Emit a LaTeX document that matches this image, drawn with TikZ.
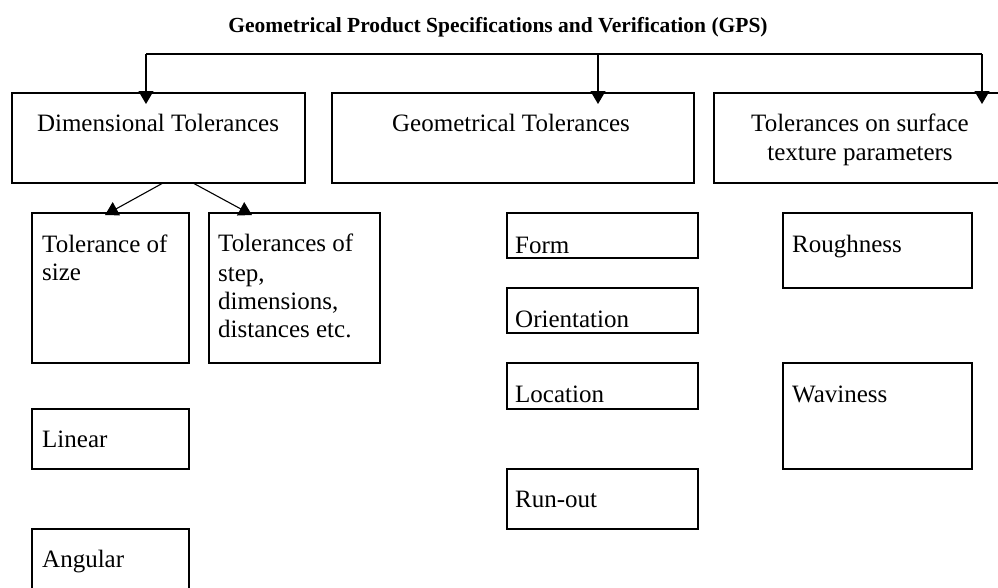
\documentclass[tikz,border=0pt]{standalone}
\usepackage{fontspec}
\setmainfont{Liberation Serif}
\usetikzlibrary{arrows.meta}
\begin{document}
\begin{tikzpicture}[x=1pt,y=-1pt,
  box/.style={draw,line width=1.3pt},
  txt/.style={inner sep=0pt,anchor=base west,font=\fontsize{25}{29}\selectfont},
  ctxt/.style={inner sep=0pt,anchor=base,font=\fontsize{25}{29}\selectfont},
  conn/.style={line width=1.1pt},
  arr/.style={line width=1.1pt,-{Triangle[length=13pt,width=15pt]}}]
\clip (0,0) rectangle (998,587);
\fill[white] (0,0) rectangle (998,587);
% title
\node[inner sep=0pt,anchor=base,font=\fontsize{21.5}{25}\selectfont\bfseries] (title) at (498,32) {Geometrical Product Specifications and Verification (GPS)};
% top boxes
\draw[box] (12,93) rectangle (305,183);
\node[inner sep=0pt,minimum width=293pt,minimum height=90pt,anchor=north west] (dim) at (12,93) {};
\node[ctxt] (dimt) at (158,131) {Dimensional Tolerances};
\draw[box] (332,93) rectangle (694,183);
\node[inner sep=0pt,minimum width=362pt,minimum height=90pt,anchor=north west] (geo) at (332,93) {};
\node[ctxt] (geot) at (511,131) {Geometrical Tolerances};
\draw[box] (714,93) rectangle (1010,183);
\node[inner sep=0pt,minimum width=296pt,minimum height=90pt,anchor=north west] (sur) at (714,93) {};
\node[ctxt] (surt1) at (860,131) {Tolerances on surface};
\node[ctxt] (surt2) at (860,160) {texture parameters};
% connectors at top
\coordinate (jl) at (146,54);
\coordinate (jm) at (598,54);
\coordinate (jr) at (982,54);
\coordinate (tl) at (146,104);
\coordinate (tm) at (598,104);
\coordinate (tr) at (982,104);
\draw[conn] (jl) -- (jr);
\draw[arr] (jl) -- (tl);
\draw[arr] (jm) -- (tm);
\draw[arr] (jr) -- (tr);
% dimensional sub-boxes
\draw[box] (32,213) rectangle (189,363);
\node[inner sep=0pt,minimum width=157pt,minimum height=150pt,anchor=north west] (tsize) at (32,213) {};
\node[txt] (tsize1) at (42,252) {Tolerance of};
\node[txt] (tsize2) at (42,280) {size};
\draw[box] (209,213) rectangle (380,363);
\node[inner sep=0pt,minimum width=171pt,minimum height=150pt,anchor=north west] (tstep) at (209,213) {};
\node[txt] (tstep1) at (218,251) {Tolerances of};
\node[txt] (tstep2) at (218,281) {step,};
\node[txt] (tstep3) at (218,309) {dimensions,};
\node[txt] (tstep4) at (218,337) {distances etc.};
\coordinate (d1) at (163,183);
\coordinate (d2) at (193,183);
\coordinate (e1) at (105,215);
\coordinate (e2) at (252,215);
\draw[arr] (d1) -- (e1);
\draw[arr] (d2) -- (e2);
\draw[box] (32,409) rectangle (189,469);
\node[inner sep=0pt,minimum width=157pt,minimum height=60pt,anchor=north west] (lin) at (32,409) {};
\node[txt] (lint) at (42,447) {Linear};
\draw[box] (32,529) rectangle (189,600);
\node[inner sep=0pt,minimum width=157pt,minimum height=71pt,anchor=north west] (ang) at (32,529) {};
\node[txt] (angt) at (42,567) {Angular};
% geometrical sub-boxes
\draw[box] (507,213) rectangle (698,258);
\node[inner sep=0pt,minimum width=191pt,minimum height=45pt,anchor=north west] (form) at (507,213) {};
\node[txt] (formt) at (515,253) {Form};
\draw[box] (507,288) rectangle (698,333);
\node[inner sep=0pt,minimum width=191pt,minimum height=45pt,anchor=north west] (ori) at (507,288) {};
\node[txt] (orit) at (515,327) {Orientation};
\draw[box] (507,363) rectangle (698,409);
\node[inner sep=0pt,minimum width=191pt,minimum height=46pt,anchor=north west] (loc) at (507,363) {};
\node[txt] (loct) at (515,402) {Location};
\draw[box] (507,469) rectangle (698,529);
\node[inner sep=0pt,minimum width=191pt,minimum height=60pt,anchor=north west] (run) at (507,469) {};
\node[txt] (runt) at (515,507) {Run-out};
% surface sub-boxes
\draw[box] (783,213) rectangle (972,288);
\node[inner sep=0pt,minimum width=189pt,minimum height=75pt,anchor=north west] (rough) at (783,213) {};
\node[txt] (rought) at (792,252) {Roughness};
\draw[box] (783,363) rectangle (972,469);
\node[inner sep=0pt,minimum width=189pt,minimum height=106pt,anchor=north west] (wav) at (783,363) {};
\node[txt] (wavt) at (792,402) {Waviness};
\end{tikzpicture}
\end{document}
